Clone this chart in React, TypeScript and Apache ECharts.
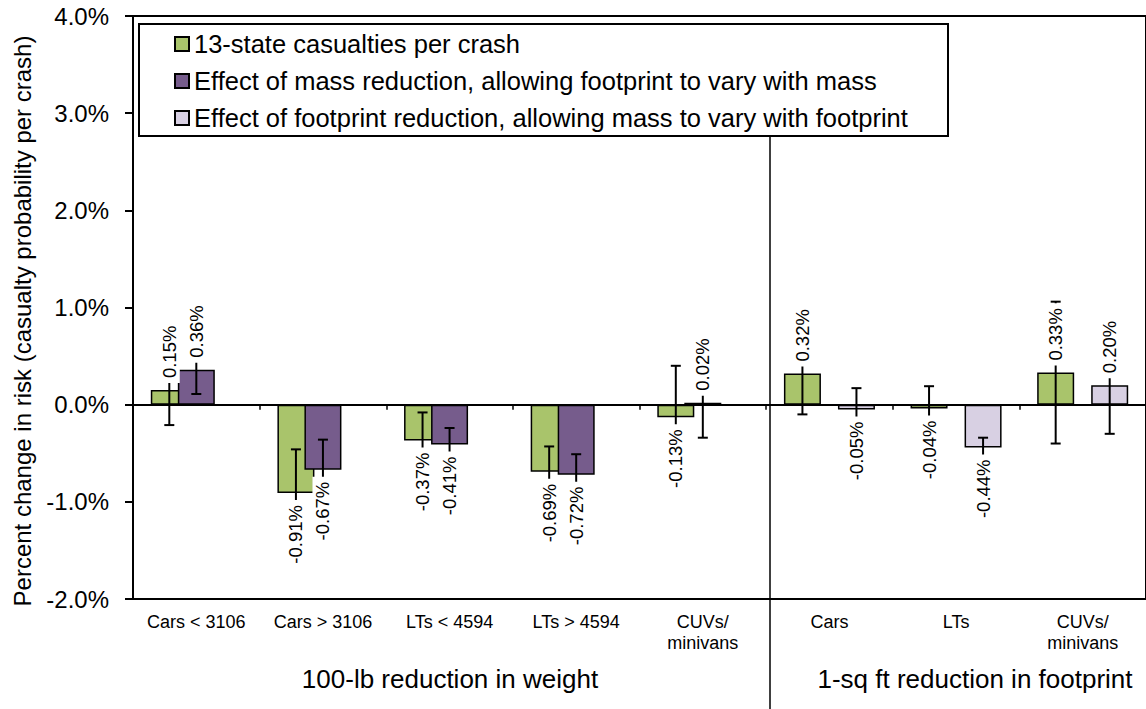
import React, { useEffect, useRef } from "react";
import * as echarts from "echarts";

const categories = [
  "Cars < 3106",
  "Cars > 3106",
  "LTs < 4594",
  "LTs > 4594",
  "CUVs/\nminivans",
  "Cars",
  "LTs",
  "CUVs/\nminivans",
];
const seriesNames = [
  "13-state casualties per crash",
  "Effect of mass reduction, allowing footprint to vary with mass",
  "Effect of footprint reduction, allowing mass to vary with footprint",
];
const stateValues = [0.15, -0.91, -0.37, -0.69, -0.13, 0.32, -0.04, 0.33];
const stateErrors = [0.36, 0.45, 0.29, 0.26, 0.53, 0.42, 0.23, 0.73];
const massValues = [0.36, -0.67, -0.41, -0.72, 0.02, null, null, null];
const massErrors = [0.25, 0.31, 0.17, 0.21, 0.36, null, null, null];
const footprintValues = [null, null, null, null, null, -0.05, -0.44, 0.2];
const footprintErrors = [null, null, null, null, null, 0.22, 0.1, 0.5];
const yMin = -2;
const yMax = 4;
const yStep = 1;
const yTitle = "Percent change in risk (casualty probability per crash)";
const groupLabels = ["100-lb reduction in weight", "1-sq ft reduction in footprint"];
const colors = ["#A9C46B", "#765C8C", "#D8D0E3"];

const FONT = '"Liberation Sans", Arial, Helvetica, sans-serif';
const BAR_W = 37;
const BAR_GAP = -0.27;
const STEP = BAR_W * (1 + BAR_GAP);

function errorSeries(values: (number | null)[], errors: (number | null)[], slot: number) {
  const data: number[][] = [];
  values.forEach((v, i) => {
    if (v !== null && errors[i] !== null) data.push([i, v, errors[i] as number]);
  });
  return {
    type: "custom",
    z: 5,
    data,
    encode: { x: 0, y: 1 },
    renderItem: (params: any, api: any) => {
      const c = api.value(0);
      const v = api.value(1);
      const e = api.value(2);
      const pt = api.coord([c, v]);
      const x = pt[0] + slot * STEP;
      const y0 = pt[1];
      const yHi = api.coord([c, v + e])[1];
      const yLo = api.coord([c, v - e])[1];
      const pos = v >= 0;
      const cap = 5;
      const ls = { stroke: "#000", lineWidth: 2 };
      return {
        type: "group",
        children: [
          { type: "line", shape: { x1: x, y1: yHi, x2: x, y2: yLo }, style: ls },
          { type: "line", shape: { x1: x - cap, y1: yHi, x2: x + cap, y2: yHi }, style: ls },
          { type: "line", shape: { x1: x - cap, y1: yLo, x2: x + cap, y2: yLo }, style: ls },
          {
            type: "text",
            x: x,
            y: pos ? y0 - 7 : y0 + 7,
            rotation: Math.PI / 2,
            z2: 20,
            style: {
              text: v.toFixed(2) + "%",
              fill: "#000",
              font: "18.5px " + FONT,
              align: pos ? "left" : "right",
              verticalAlign: "middle",
              backgroundColor: "#fff",
              padding: [1, 5, 1, 5],
            },
          },
        ],
      };
    },
  };
}

export default function App() {
  const ref = useRef<HTMLDivElement>(null);
  useEffect(() => {
    if (!ref.current) return;
    const chart = echarts.init(ref.current, undefined, { renderer: "svg" });
    const barCommon = {
      type: "bar",
      barWidth: BAR_W,
      barGap: `${BAR_GAP * 100}%`,
      z: 2,
    };
    chart.setOption({
      animation: false,
      backgroundColor: "#fff",
      textStyle: { fontFamily: FONT },
      grid: {
        left: 133,
        top: 16,
        width: 1018,
        height: 583,
        show: true,
        borderColor: "#000",
        borderWidth: 2,
        backgroundColor: "transparent",
      },
      legend: {
        data: seriesNames,
        orient: "vertical",
        left: 174,
        top: 30,
        padding: 0,
        icon: "rect",
        itemWidth: 14,
        itemHeight: 14,
        itemGap: 9,
        selectedMode: false,
        textStyle: { fontSize: 25.5, color: "#000", fontFamily: FONT, lineHeight: 28 },
      },
      xAxis: [
        {
          type: "category",
          data: categories,
          position: "bottom",
          axisLine: { show: false, onZero: false },
          axisTick: { show: false },
          axisLabel: {
            interval: 0,
            margin: 12,
            fontSize: 18,
            lineHeight: 21,
            color: "#000",
            fontFamily: FONT,
          },
        },
        {
          type: "category",
          data: categories,
          position: "bottom",
          axisLine: { show: true, onZero: true, lineStyle: { color: "#000", width: 2 } },
          axisTick: { show: true, length: 5, lineStyle: { color: "#000", width: 1.5 } },
          axisLabel: { show: false },
        },
      ],
      yAxis: {
        type: "value",
        min: yMin,
        max: yMax,
        interval: yStep,
        axisLine: { show: true, onZero: false, lineStyle: { color: "#000", width: 2 } },
        axisTick: { show: true, length: 8, lineStyle: { color: "#000", width: 2 } },
        splitLine: { show: false },
        axisLabel: {
          margin: 24,
          fontSize: 24,
          color: "#000",
          fontFamily: FONT,
          formatter: (v: number) => v.toFixed(1) + "%",
        },
      },
      series: [
        {
          ...barCommon,
          name: seriesNames[0],
          data: stateValues.map((v) => (v === null ? "-" : v)),
          itemStyle: { color: colors[0], borderColor: "#000", borderWidth: 1.5 },
        },
        {
          ...barCommon,
          name: seriesNames[1],
          data: massValues.map((v) => (v === null ? "-" : v)),
          itemStyle: { color: colors[1], borderColor: "#000", borderWidth: 1.5 },
        },
        {
          ...barCommon,
          name: seriesNames[2],
          data: footprintValues.map((v) => (v === null ? "-" : v)),
          itemStyle: { color: colors[2], borderColor: "#000", borderWidth: 1.5 },
        },
        errorSeries(stateValues, stateErrors, -1),
        errorSeries(massValues, massErrors, 0),
        errorSeries(footprintValues, footprintErrors, 1),
      ],
      graphic: [
        {
          type: "rect",
          z: 3,
          shape: { x: 139, y: 24, width: 809, height: 112 },
          style: { fill: "#fff", stroke: "#000", lineWidth: 2 },
        },
        {
          type: "line",
          z: 3,
          shape: { x1: 770, y1: 136, x2: 770, y2: 709 },
          style: { stroke: "#000", lineWidth: 1.5 },
        },
        {
          type: "text",
          x: 22,
          y: 321,
          rotation: Math.PI / 2,
          style: {
            text: yTitle,
            fill: "#000",
            font: "24px " + FONT,
            align: "center",
            verticalAlign: "middle",
          },
        },
        {
          type: "text",
          x: 450,
          y: 679,
          style: {
            text: groupLabels[0],
            fill: "#000",
            font: "26px " + FONT,
            align: "center",
            verticalAlign: "middle",
          },
        },
        {
          type: "text",
          x: 975,
          y: 679,
          style: {
            text: groupLabels[1],
            fill: "#000",
            font: "26px " + FONT,
            align: "center",
            verticalAlign: "middle",
          },
        },
      ],
    });
    return () => chart.dispose();
  }, []);
  return (
    <div
      ref={ref}
      style={{ position: "absolute", left: 0, top: 0, width: 1146, height: 709 }}
    />
  );
}
